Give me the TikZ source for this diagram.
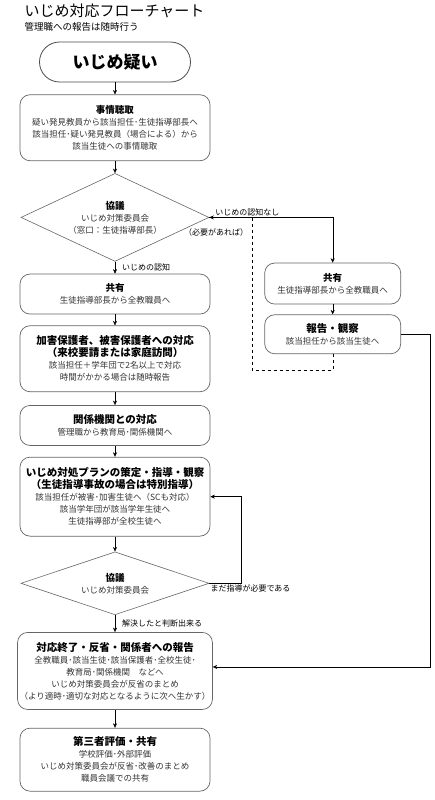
\documentclass[tikz,border=0pt]{standalone}
\usepackage{fontspec}
\setmainfont{Noto Sans CJK JP}
\usetikzlibrary{arrows.meta,positioning,shapes.geometric}
\newcommand{\hd}[1]{{\fontsize{10.5}{15}\selectfont\bfseries\color{black}#1}}
\newcommand{\hs}[1]{{\fontsize{9.5}{14}\selectfont\bfseries\color{black}#1}}

\begin{document}
\begin{tikzpicture}[
  font=\fontsize{8.5}{12}\selectfont, node distance=12pt,
  box/.style={draw=black!60, line width=0.7pt, rounded corners=10pt, align=center, minimum width=190pt, inner sep=2pt, text=black!80},
  rbox/.style={box, minimum width=136pt},
  dec/.style={draw=black!60, line width=0.6pt, diamond, minimum width=188pt, inner sep=0pt, align=center, text=black!80},
  lbl/.style={font=\fontsize{8}{10}\selectfont, inner sep=1pt},
  >={Stealth[length=4.5pt,width=4pt]}]
\useasboundingbox (0,0) rectangle (435pt,-800pt);
\node[anchor=west, font=\fontsize{15}{18}\selectfont] (title) at (21pt,-11pt) {いじめ対応フローチャート};
\node[anchor=west, font=\fontsize{9.5}{11}\selectfont] (sub) at (21pt,-27pt) {管理職への報告は随時行う};
\node[draw=black!70, line width=0.8pt, rounded corners=20pt, minimum width=151pt, minimum height=40pt, font=\fontsize{17}{20}\selectfont\bfseries] (start) at (115pt,-62pt) {いじめ疑い};
\node[box, below=12pt of start, minimum height=66pt] (b1) {\hs{事情聴取}\\疑い発見教員から該当担任･生徒指導部長へ\\該当担任･疑い発見教員（場合による）から\\該当生徒への事情聴取};
\node[dec, below=12pt of b1, aspect=2.14, minimum height=88pt] (d1) {\hs{協議}\\いじめ対策委員会\\（窓口：生徒指導部長）};
\node[box, below=12pt of d1, minimum height=40pt] (b2) {\hs{共有}\\生徒指導部長から全教職員へ};
\node[box, below=11pt of b2, minimum height=66pt] (b3) {\hd{加害保護者、被害保護者への対応}\\\hd{（来校要請または家庭訪問）}\\該当担任＋学年団で2名以上で対応\\時間がかかる場合は随時報告};
\node[box, below=13pt of b3, minimum height=40pt] (b4) {\hd{関係機関との対応}\\管理職から教育局･関係機関へ};
\node[box, below=11pt of b4, minimum height=79pt] (b5) {\hd{いじめ対処プランの策定・指導・観察}\\\hd{（生徒指導事故の場合は特別指導）}\\該当担任が被害･加害生徒へ（SCも対応）\\該当学年団が該当学年生徒へ\\生徒指導部が全校生徒へ};
\node[dec, below=15pt of b5, aspect=3, minimum height=63pt] (d2) {\hs{協議}\\いじめ対策委員会};
\node[box, below=17pt of d2, minimum height=77pt] (b6) {\hd{対応終了・反省・関係者への報告}\\全教職員･該当生徒･該当保護者･全校生徒･\\教育局･関係機関　などへ\\いじめ対策委員会が反省のまとめ\\（より適時･適切な対応となるように次へ生かす）};
\node[box, below=18pt of b6, minimum height=63pt] (b7) {\hd{第三者評価・共有}\\学校評価･外部評価\\いじめ対策委員会が反省･改善のまとめ\\職員会議での共有};
\node[rbox, right=54pt of b2, yshift=10.5pt, minimum height=41pt] (r1) {\hs{共有}\\生徒指導部長から全教職員へ};
\node[rbox, below=10pt of r1, minimum height=39pt] (r2) {\hd{報告・観察}\\該当担任から該当生徒へ};
\draw[->] (start) -- (b1);
\draw[->] (b1) -- (d1);
\draw[->] (d1) -- node[lbl, right=6pt]{いじめの認知} (b2);
\draw[->] (b2) -- (b3);
\draw[->] (b3) -- (b4);
\draw[->] (b4) -- (b5);
\draw[->] (b5) -- (d2);
\draw[->] (d2) -- node[lbl, right=6pt]{解決したと判断出来る} (b6);
\draw[->] (b6) -- (b7);
\draw[->] (d1.east) -| node[lbl, pos=0.02, above right]{いじめの認知なし} (r1.north);
\draw[->] (r1) -- (r2);
\draw[->, dashed] (r2.south) -- ++(0,-16pt) -| node[lbl, pos=1, below left=10pt and 3pt]{（必要があれば）} ([xshift=43pt]d1.east) -- (d1.east);
\draw[->] (d2.east) -- node[lbl, at start, below right]{まだ指導が必要である} ++(32pt,0) |- (b5.east);
\draw[->] (r2.east) -- ++(29pt,0) |- ([yshift=4pt]b6.east);
\end{tikzpicture}
\end{document}
